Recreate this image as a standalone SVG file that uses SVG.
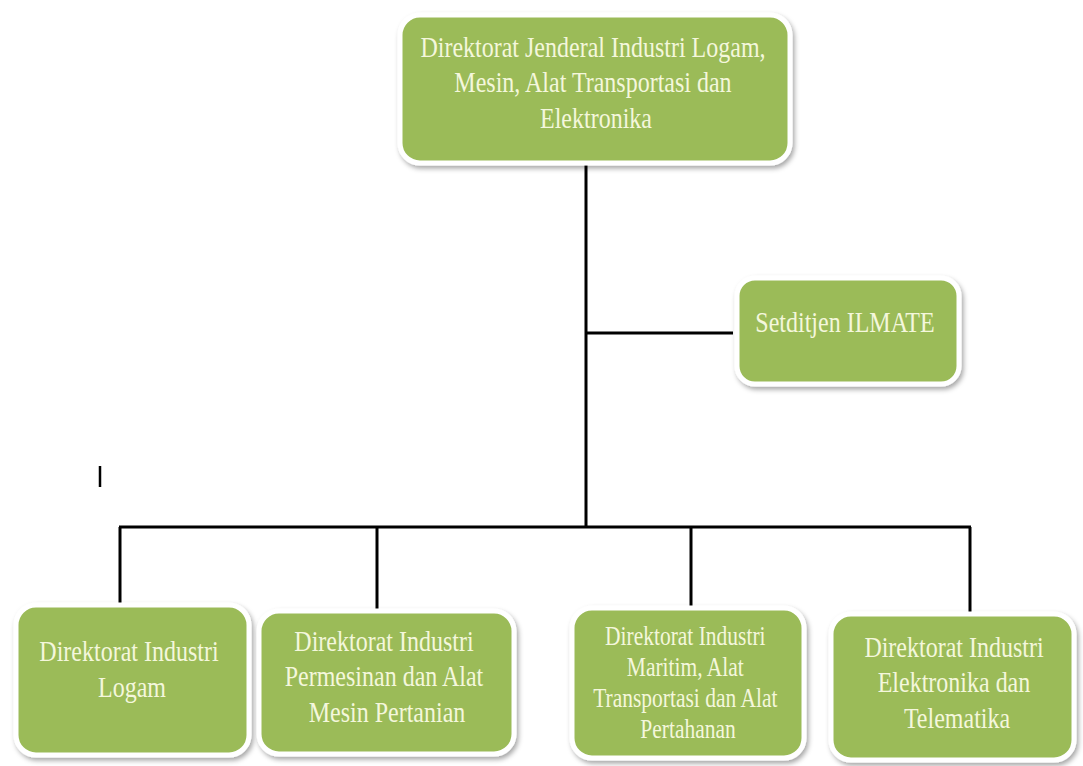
<svg xmlns="http://www.w3.org/2000/svg" width="1083" height="766" viewBox="0 0 1083 766">
  <defs>
    <filter id="shadow" x="-10%" y="-10%" width="125%" height="130%">
      <feDropShadow dx="2" dy="3" stdDeviation="2.5" flood-color="#000" flood-opacity="0.35"/>
    </filter>
    <style>
      .box { fill: #9bbb59; stroke: #ffffff; stroke-width: 5; filter: url(#shadow); }
      .lbl { font-family: "Liberation Serif", "Times New Roman", serif; font-size: 24px; fill: #f4f7dc; text-anchor: middle;
             transform-box: fill-box; transform-origin: center; transform: scaleY(1.25); }
      .sm { font-size: 21.5px; }
      .wire { stroke: #000; stroke-width: 3; fill: none; }
    </style>
  </defs>
  <rect width="1083" height="766" fill="#ffffff"/>

  <!-- connectors -->
  <g id="connectors">
    <path class="wire" d="M586 163 V527"/>
    <path class="wire" d="M586 333 H733"/>
    <path class="wire" d="M119 527 H971"/>
    <path class="wire" d="M120 527 V605"/>
    <path class="wire" d="M377 527 V611"/>
    <path class="wire" d="M691 527 V608"/>
    <path class="wire" d="M970 527 V614"/>
  </g>

  <!-- short stray stroke on the left -->
  <path d="M100 466 V487" stroke="#000" stroke-width="2.5"/>

  <g id="dirjen">
    <rect class="box" x="400" y="15" width="390" height="148" rx="20"/>
    <text class="lbl" x="596" y="62">
      <tspan x="596">Direktorat Jenderal Industri Logam,</tspan>
      <tspan x="596" dy="28.5">Mesin, Alat Transportasi dan</tspan>
      <tspan x="596" dy="28.5">Elektronika</tspan>
    </text>
  </g>

  <g id="setditjen">
    <rect class="box" x="737" y="278" width="222" height="106" rx="18"/>
    <text class="lbl" x="845" y="330">Setditjen ILMATE</text>
  </g>

  <g id="logam">
    <rect class="box" x="16" y="605" width="233" height="150" rx="20"/>
    <text class="lbl" x="132" y="663">
      <tspan x="132">Direktorat Industri</tspan>
      <tspan x="132" dy="28.5">Logam</tspan>
    </text>
  </g>

  <g id="permesinan">
    <rect class="box" x="259" y="611" width="255" height="143" rx="20"/>
    <text class="lbl" x="387" y="656">
      <tspan x="387">Direktorat Industri</tspan>
      <tspan x="387" dy="28.5">Permesinan dan Alat</tspan>
      <tspan x="387" dy="28.5">Mesin Pertanian</tspan>
    </text>
  </g>

  <g id="maritim">
    <rect class="box" x="572" y="608" width="232" height="150" rx="20"/>
    <text class="lbl sm" x="688" y="652">
      <tspan x="688">Direktorat Industri</tspan>
      <tspan x="688" dy="24.8">Maritim, Alat</tspan>
      <tspan x="688" dy="24.8">Transportasi dan Alat</tspan>
      <tspan x="688" dy="24.8">Pertahanan</tspan>
    </text>
  </g>

  <g id="elektronika">
    <rect class="box" x="831" y="614" width="243" height="146" rx="20"/>
    <text class="lbl" x="957" y="662">
      <tspan x="957">Direktorat Industri</tspan>
      <tspan x="957" dy="28.5">Elektronika dan</tspan>
      <tspan x="957" dy="28.5">Telematika</tspan>
    </text>
  </g>
</svg>
